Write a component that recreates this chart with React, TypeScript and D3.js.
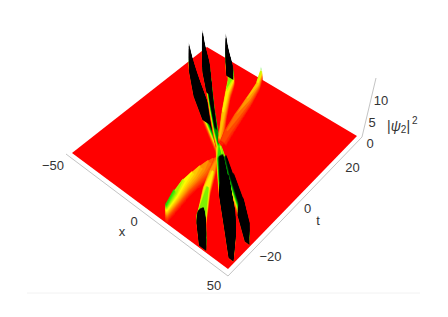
import * as d3 from "d3";

// floor corners on screen, x = -50..50, t = -30..30
const cornerLL = [72, 153];
const cornerLR = [228, 269];
const cornerRR = [357, 136];
const cornerRL = [207, 47];

const xTicks = [-50, 0, 50];
const tTicks = [-20, 0, 20];
const zTicks = [0, 5, 10];

// ridges: t, crest x, crest height, flank width in x
// tone scales height to colour, front/back scale the flank on each side
const ridgeA = { tone: 1, front: 1, back: 0.2, t: [18.6, 11.3, 6, 1.2, -1.1], x: [-45, -30, -16.5, -4, 2.3], h: [7, 6.2, 6, 5, 3], w: [0.5, 5, 5, 3, 2] };
const ridgeB = { tone: 1, front: 1, back: 0.2, t: [25, 20.3, 15, 8.5, 2.4, -0.9], x: [-45.5, -37.6, -27.4, -15.6, -4, 2.7], h: [7.2, 6.5, 5.5, 5, 4, 3], w: [0.5, 4, 3, 2.5, 2.5, 2] };
const ridgeC = { tone: 1, front: 1, back: 0.2, t: [28.5, 24, 22.4, 17.7, 10.8, 2.7], x: [-35.2, -27.4, -23.6, -18.9, -11.4, -1.9], h: [7, 6, 3.6, 2.2, 1.9, 1.6], w: [0.5, 4, 3, 2.5, 2.5, 2.5] };
const ridgeD = { tone: 1, front: 1, back: 0.6, t: [30, 26.1, 19.8, 13.5, 7, 3.3], x: [-14, -10.7, -8.1, -5.8, -2.9, -0.6], h: [2.8, 2, 1.5, 1.2, 1, 0.9], w: [1, 1.5, 2.5, 3, 3, 2.5] };
const ridgeE = { tone: 0.6, front: 1, back: 0.3, t: [-30, -24, -18.4, -14, -10.2, -6.5, -4.3], x: [10, 7, 4.9, 4.4, 4.1, 4.2, 4.3], h: [5.2, 4.3, 3.5, 3, 2.5, 2, 1.5], w: [1, 3, 4, 4.5, 5, 4.5, 4] };
const ridgeF = { tone: 1, front: 0.3, back: 1, t: [-30, -24.2, -14.3, -8.2, -3], x: [35, 26.2, 15.3, 9.9, 5], h: [6.2, 5.2, 2.4, 1.8, 1.2], w: [3.5, 4.5, 3.5, 3, 2] };
const ridgeG = { tone: 1, front: 0.2, back: 1, t: [-27.5, -20.7, -12, -4.9, -0.7], x: [50, 40.8, 25, 11.5, 3], h: [9, 8, 6.5, 4.5, 2.5], w: [3, 6, 6, 4, 2] };
const ridgeH = { tone: 1, front: 0.4, back: 1, t: [-20, -14.2, -8.7, -3.7, 0], x: [50, 37.6, 23.8, 11.9, 3.2], h: [5.8, 5.5, 5, 3.8, 2.2], w: [3, 3.5, 3, 2.5, 2] };
const ridges = [ridgeA, ridgeB, ridgeC, ridgeD, ridgeE, ridgeF, ridgeH, ridgeG];

const u = d3.scaleLinear().domain([-50, 50]).range([0, 1]);
const v = d3.scaleLinear().domain([-30, 30]).range([0, 1]);
const lift = d3.scaleLinear().domain([0, 10]).range([0, 42]);
const heat = d3
  .scaleLinear<string>()
  .domain([0, 0.8, 1.8, 2.6, 3.5, 12])
  .range(["#ff0000", "#ff5000", "#ffff00", "#00e000", "#000000", "#000000"])
  .clamp(true);
const levels = d3.range(0.2, 9.2, 0.25);
const coreHeight = 5.2; // rows this tall are black right down to the foot

const project = (x: number, t: number, z = 0): [number, number] => {
  const a = u(x);
  const b = v(t);
  const px = (1 - a) * (1 - b) * cornerLL[0] + a * (1 - b) * cornerLR[0] + a * b * cornerRR[0] + (1 - a) * b * cornerRL[0];
  const py = (1 - a) * (1 - b) * cornerLL[1] + a * (1 - b) * cornerLR[1] + a * b * cornerRR[1] + (1 - a) * b * cornerRL[1];
  return [px, py - lift(z)];
};

const line = d3.line();

// closed outline of one ridge at height z, rows lower than minH are left out
const ring = (r: typeof ridgeA, z: number, minH = z) => {
  const front: [number, number][] = [];
  const back: [number, number][] = [];
  r.t.forEach((t, i) => {
    if (r.h[i] < minH) return;
    const zr = Math.min(z, r.h[i]);
    const s = 1 - Math.pow(zr / r.h[i], 3.5);
    front.push(project(Math.min(50, r.x[i] + r.w[i] * r.front * s), t, zr));
    back.push(project(r.x[i] - r.w[i] * r.back * s, t, zr));
  });
  if (front.length === 0) return null;
  return line([...front, ...back.reverse()]) + "Z";
};

const font = { fontFamily: "Liberation Sans", fontSize: 13, fill: "#333" };

export default function App() {
  const floor = [project(-50, -30), project(50, -30), project(50, 30), project(-50, 30)];
  const axisLine = "#c4c4c4";
  const xOffsets = [[-19, 12], [-16, 10], [-14, 16]];
  const tOffsets = [[21, 10], [15, 6], [17, 9]];
  const zBase = [362, 137];
  const zOffsets = [[8, 6], [10, 6], [19, 5]];
  return (
    <svg width={448} height={317} style={{ position: "absolute", left: 0, top: 0 }}>
      <defs>
        <filter id="soft" x="-20%" y="-20%" width="140%" height="140%">
          <feGaussianBlur stdDeviation={0.55} />
        </filter>
      </defs>
      <line x1={27} x2={420} y1={293} y2={293} stroke="#f2f2f2" />
      <path d={`M66,154L228,276L362,137L376,78`} fill="none" stroke={axisLine} />
      <path d={line(floor) + "Z"} fill="#ff0000" />
      <g filter="url(#soft)">
        {ridges.map((r, i) => (
          <g key={i}>
            {levels.map((z) => {
              const d = ring(r, z);
              const c = heat(z * r.tone);
              return d ? <path key={z} d={d} fill={c} stroke={c} strokeWidth={0.3} /> : null;
            })}
            {levels.slice(1).map((z) => {
              const d = ring(r, z, coreHeight);
              return d ? <path key={z} d={d} fill="#000" /> : null;
            })}
          </g>
        ))}
      </g>
      <g {...font} textAnchor="middle" dominantBaseline="central">
        {xTicks.map((x, i) => {
          const [px, py] = project(x, -30);
          return (
            <text key={x} x={px + xOffsets[i][0]} y={py + xOffsets[i][1]}>
              {String(x).replace("-", "\u2212")}
            </text>
          );
        })}
        {tTicks.map((t, i) => {
          const [px, py] = project(50, t);
          return (
            <text key={t} x={px + tOffsets[i][0]} y={py + tOffsets[i][1]}>
              {String(t).replace("-", "\u2212")}
            </text>
          );
        })}
        {zTicks.map((z, i) => (
          <text key={z} x={zBase[0] + zOffsets[i][0]} y={zBase[1] - lift(z) + zOffsets[i][1]}>
            {z}
          </text>
        ))}
        <text x={122} y={231}>x</text>
        <text x={318} y={220}>t</text>
        <text x={387} y={126} textAnchor="start" fontSize={14}>
          |<tspan fontStyle="italic">ψ</tspan>
          <tspan fontSize={10} dy={3}>2</tspan>
          <tspan dy={-3}>|</tspan>
          <tspan fontSize={10} dy={-6} dx={2}>2</tspan>
        </text>
      </g>
    </svg>
  );
}
